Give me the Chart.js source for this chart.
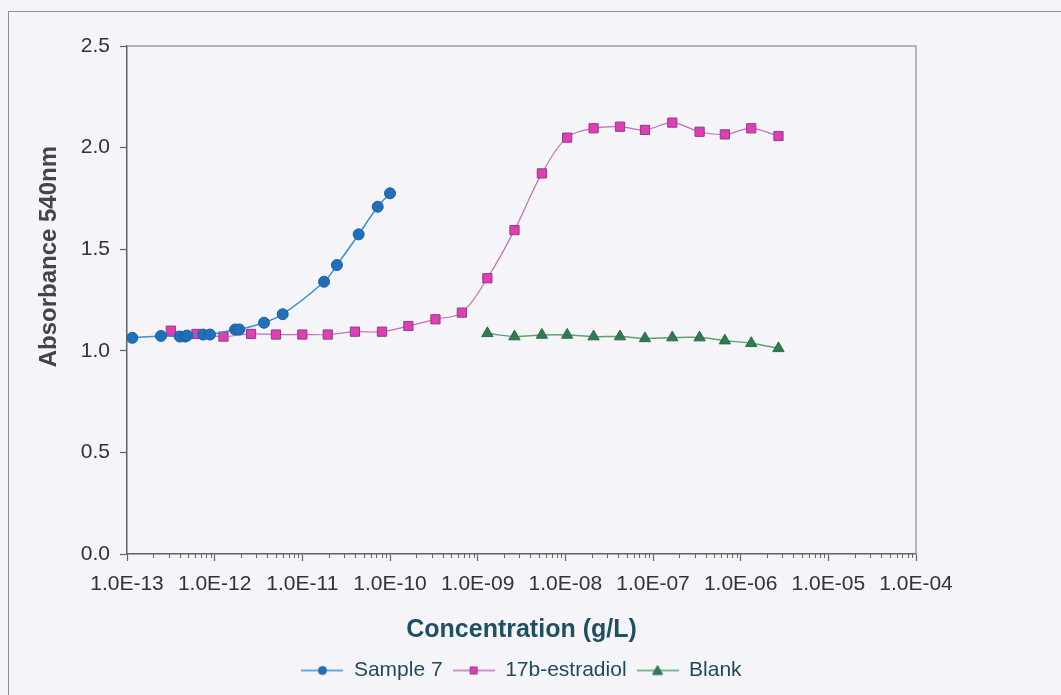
<!DOCTYPE html>
<html>
<head>
<meta charset="utf-8">
<script src="https://cdn.jsdelivr.net/npm/chart.js@4.4.1/dist/chart.umd.min.js"></script>
<style>
  html, body { margin: 0; padding: 0; background: #f4f4f9; }
  #frame { position: absolute; left: 8px; top: 11px; width: 1100px; height: 800px; border: 1.5px solid #8c9192; }
  #wrap { position: absolute; left: 0; top: 0; width: 1061px; height: 695px; }
</style>
</head>
<body>
<div id="frame"></div>
<div id="wrap"><canvas id="absChart"></canvas></div>
<script>
// concentration (g/L) and absorbance at 540nm
const sampleConc = [1.15e-13, 2.44e-13, 4.0e-13, 4.6e-13, 4.85e-13, 7.4e-13, 8.85e-13, 1.71e-12, 1.91e-12, 3.66e-12, 5.97e-12, 1.77e-11, 2.48e-11, 4.39e-11, 7.24e-11, 1.0e-10];
const sampleAbs  = [1.064, 1.073, 1.07, 1.07, 1.075, 1.08, 1.08, 1.105, 1.105, 1.138, 1.18, 1.34, 1.422, 1.573, 1.709, 1.775];

const e2Conc = [3.16e-13, 6.2e-13, 1.26e-12, 2.6e-12, 5.0e-12, 1.0e-11, 1.95e-11, 3.98e-11, 8.1e-11, 1.62e-10, 3.3e-10, 6.6e-10,
                1.29e-9, 2.63e-9, 5.4e-9, 1.05e-8, 2.1e-8, 4.2e-8, 8.1e-8, 1.66e-7, 3.4e-7, 6.6e-7, 1.32e-6, 2.7e-6];
const e2Abs  = [1.099, 1.083, 1.07, 1.083, 1.08, 1.08, 1.08, 1.094, 1.094, 1.122, 1.155, 1.188,
                1.357, 1.594, 1.873, 2.049, 2.095, 2.103, 2.087, 2.123, 2.078, 2.065, 2.095, 2.057];

const blankConc = [1.29e-9, 2.63e-9, 5.4e-9, 1.05e-8, 2.1e-8, 4.2e-8, 8.1e-8, 1.66e-7, 3.4e-7, 6.6e-7, 1.32e-6, 2.7e-6];
const blankAbs  = [1.086, 1.07, 1.078, 1.078, 1.07, 1.07, 1.061, 1.065, 1.065, 1.05, 1.037, 1.012];

const xTickValues = [1e-13, 1e-12, 1e-11, 1e-10, 1e-9, 1e-8, 1e-7, 1e-6, 1e-5, 1e-4];
const xTickLabels = ['1.0E-13', '1.0E-12', '1.0E-11', '1.0E-10', '1.0E-09', '1.0E-08', '1.0E-07', '1.0E-06', '1.0E-05', '1.0E-04'];

const FONT = '"Liberation Sans", Arial, sans-serif';
const AXIS = '#5a6666';

function toPoints(xs, ys) {
    return xs.map((x, i) => ({ x: x, y: ys[i] }));
}

// little line+marker pictures for the legend, like Excel draws them
function legendIcon(lineColor, fill, stroke, shape) {
    const c = document.createElement('canvas');
    c.width = 42; c.height = 16;
    const g = c.getContext('2d');
    g.strokeStyle = lineColor; g.lineWidth = 1.5;
    g.beginPath(); g.moveTo(0, 8); g.lineTo(42, 8); g.stroke();
    g.fillStyle = fill; g.strokeStyle = stroke; g.lineWidth = 1;
    g.beginPath();
    if (shape === 'circle') g.arc(21, 8, 4, 0, Math.PI * 2);
    else if (shape === 'rect') g.rect(17.5, 4.5, 7, 7);
    else { g.moveTo(21, 3); g.lineTo(26, 12); g.lineTo(16, 12); g.closePath(); }
    g.fill(); g.stroke();
    return c;
}
const icons = [
    legendIcon('#3b8fd4', '#1f6fba', '#1a5e9e', 'circle'),
    legendIcon('#c070b4', '#e03fb4', '#8e3a86', 'rect'),
    legendIcon('#5f9f78', '#2f7d4e', '#2a6a44', 'triangle')
];

const extras = {
    id: 'extras',
    beforeDatasetsDraw(chart) {
        const { ctx, chartArea: a, scales: { x } } = chart;
        ctx.save();
        ctx.strokeStyle = '#9aa0a2';
        ctx.lineWidth = 1.5;
        ctx.beginPath();
        ctx.moveTo(a.left, a.top);
        ctx.lineTo(a.right, a.top);
        ctx.lineTo(a.right, a.bottom);
        ctx.stroke();
        // minor log ticks
        ctx.strokeStyle = AXIS;
        ctx.lineWidth = 1;
        ctx.beginPath();
        for (let d = -13; d < -4; d++) {
            for (let k = 2; k < 10; k++) {
                const px = Math.round(x.getPixelForValue(k * Math.pow(10, d))) + 0.5;
                ctx.moveTo(px, a.bottom);
                ctx.lineTo(px, a.bottom + 4);
            }
        }
        ctx.stroke();
        ctx.restore();
    }
};

const ctx = document.getElementById('absChart').getContext('2d');
const absChart = new Chart(ctx, {
    type: 'line',
    data: {
        datasets: [{
            label: 'Sample 7',
            data: toPoints(sampleConc, sampleAbs),
            borderColor: '#3b8fd4',
            borderWidth: 1.5,
            pointStyle: 'circle',
            pointRadius: 5.5,
            pointBackgroundColor: '#1f6fba',
            pointBorderColor: '#1a5e9e',
            pointBorderWidth: 1,
            tension: 0.35
        }, {
            label: '17b-estradiol',
            data: toPoints(e2Conc, e2Abs),
            borderColor: '#c070b4',
            borderWidth: 1.2,
            pointStyle: 'rect',
            pointRadius: 6.5,
            pointBackgroundColor: '#e03fb4',
            pointBorderColor: '#8e3a86',
            pointBorderWidth: 1,
            tension: 0.35
        }, {
            label: 'Blank',
            data: toPoints(blankConc, blankAbs),
            borderColor: '#5f9f78',
            borderWidth: 1.5,
            pointStyle: 'triangle',
            pointRadius: 6.5,
            pointBackgroundColor: '#2f7d4e',
            pointBorderColor: '#2a6a44',
            pointBorderWidth: 1,
            tension: 0.35
        }]
    },
    options: {
        responsive: true,
        maintainAspectRatio: false,
        animation: false,
        layout: { padding: { left: 35, top: 46, right: 145, bottom: 4 } },
        scales: {
            x: {
                type: 'logarithmic',
                min: 1e-13,
                max: 1e-4,
                afterBuildTicks: (scale) => { scale.ticks = xTickValues.map(v => ({ value: v })); },
                afterFit: (scale) => { scale.height = 96; },
                ticks: {
                    autoSkip: false,
                    maxRotation: 0,
                    padding: 11,
                    color: '#333',
                    font: { family: FONT, size: 21 },
                    callback: (v, i) => xTickLabels[i]
                },
                grid: { drawOnChartArea: false, tickLength: 7, tickColor: AXIS, tickWidth: 1.2 },
                border: { color: AXIS, width: 1.5 },
                title: {
                    display: true,
                    text: 'Concentration (g/L)',
                    color: '#1f4f63',
                    font: { family: FONT, size: 25, weight: 'bold' },
                    padding: { top: 4, bottom: 5 }
                }
            },
            y: {
                min: 0,
                max: 2.5,
                afterFit: (scale) => { scale.width = 92; },
                ticks: {
                    stepSize: 0.5,
                    padding: 10,
                    color: '#333',
                    font: { family: FONT, size: 21 },
                    callback: (v) => v.toFixed(1)
                },
                grid: { drawOnChartArea: false, tickLength: 7, tickColor: AXIS, tickWidth: 1.2 },
                border: { color: AXIS, width: 1.5 },
                title: {
                    display: true,
                    // leading blanks lift the title above the middle of the axis, as in the original
                    text: '\u00a0'.repeat(13) + 'Absorbance 540nm',
                    color: '#444',
                    font: { family: FONT, size: 24, weight: 'bold' },
                    padding: { top: 0, bottom: 0 }
                }
            }
        },
        plugins: {
            tooltip: { enabled: false },
            legend: {
                position: 'bottom',
                fullSize: false,
                labels: {
                    usePointStyle: true,
                    pointStyleWidth: 42,
                    padding: 10,
                    color: '#1f4a5a',
                    font: { family: FONT, size: 21 },
                    generateLabels: (chart) => {
                        const items = Chart.defaults.plugins.legend.labels.generateLabels(chart);
                        items.forEach((it, i) => { it.pointStyle = icons[i]; });
                        return items;
                    }
                }
            }
        }
    },
    plugins: [extras]
});
</script>
</body>
</html>
